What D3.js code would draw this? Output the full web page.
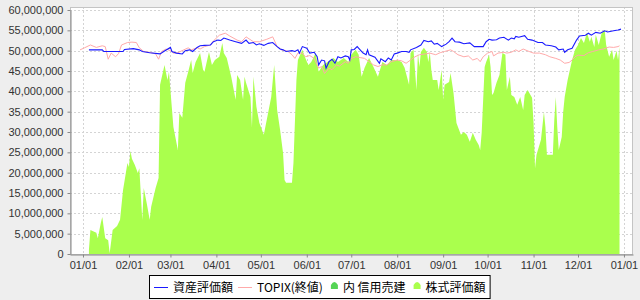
<!DOCTYPE html>
<html>
<head>
<meta charset="utf-8">
<script src="https://cdn.jsdelivr.net/npm/d3@7"></script>
<style>
  body { margin: 0; background: #eeeeee; }
  svg { display: block; }
  .tick text { font-family: "Liberation Sans", Arial, sans-serif; font-size: 11px; fill: #333; }
</style>
</head>
<body>
<div id="chart"></div>
<script>
var svgWidth = 640;
var svgHeight = 300;

// plot area
var plotLeft = 70, plotRight = 633, plotTop = 7, plotBottom = 254;

// day offsets from 01/01, values in millions of yen
var stockDays = [4, 5, 9, 10, 12, 13, 15, 17, 18, 20, 23, 25, 27, 30, 31, 32, 33, 35, 37, 38,
  40, 41, 43, 45, 46, 49, 51, 52, 55, 57, 58, 61, 64, 65, 67, 69, 71, 73, 74, 76,
  79, 81, 82, 85, 87, 89, 92, 94, 95, 97, 100, 103, 104, 106, 108, 109, 110, 113, 114, 115,
  117, 119, 122, 124, 127, 129, 131, 133, 135, 136, 137, 141, 142, 144, 145, 148, 150, 152, 154, 157,
  159, 162, 165, 169, 172, 176, 179, 181, 184, 186, 188, 190, 193, 196, 199, 202, 205, 208, 212, 215,
  217, 220, 221, 223, 225, 226, 227, 228, 230, 232, 233, 234, 235, 236, 239, 240, 242, 243, 244, 247,
  248, 250, 252, 253, 255, 257, 259, 261, 263, 265, 267, 268, 269, 271, 272, 274, 275, 276, 277, 279,
  281, 283, 285, 286, 288, 289, 291, 293, 295, 297, 298, 300, 303, 304, 305, 306, 309, 311, 312, 313,
  317, 318, 319, 320, 321, 323, 324, 325, 327, 330, 332, 334, 336, 338, 340, 342, 343, 345, 346, 348,
  350, 352, 353, 355, 357, 358, 360, 361, 362];
var stockValues = [1.0, 5.9, 5.2, 3.9, 7.6, 9.1, 3.9, 3.4, 0.2, 5.9, 6.9, 8.4, 15.7, 22.4, 21.4, 25.3, 23.4, 21.9, 19.9, 21.1,
  8.4, 16.2, 12.5, 8.4, 11.6, 16.2, 18.7, 41.6, 46.5, 42.8, 44.8, 31.2, 25.6, 34.7, 33.5, 42.1, 44.8, 47.7, 44.5, 47.2,
  49.4, 45.3, 44.8, 49.7, 46.5, 47.7, 48.5, 51.9, 49.4, 48.2, 43.6, 37.9, 44.0, 42.8, 37.9, 43.6, 42.1, 38.6, 31.2, 43.6,
  36.2, 32.2, 29.3, 33.0, 38.6, 46.5, 35.4, 30.5, 24.8, 18.2, 17.5, 17.5, 22.4, 42.8, 47.7, 50.2, 48.2, 46.5, 47.2, 49.4,
  44.8, 46.5, 47.2, 48.2, 47.2, 48.2, 47.2, 49.0, 50.2, 49.0, 43.6, 45.8, 48.2, 46.0, 43.6, 47.2, 46.5, 47.7, 47.7, 47.2,
  45.8, 41.6, 49.4, 50.2, 40.3, 49.4, 46.0, 49.7, 50.7, 49.7, 47.2, 49.7, 45.3, 42.8, 42.8, 40.3, 45.3, 37.9, 41.6, 42.3,
  44.5, 39.6, 32.2, 31.2, 29.3, 30.0, 29.3, 27.6, 29.8, 28.1, 26.8, 25.6, 29.8, 46.0, 47.2, 49.0, 46.0, 39.1, 39.6, 42.1,
  44.0, 49.4, 49.0, 40.3, 43.6, 39.1, 38.6, 36.7, 38.6, 35.4, 39.1, 40.3, 38.4, 32.2, 21.1, 24.4, 28.1, 34.9, 31.2, 24.4,
  24.4, 33.0, 38.6, 31.2, 25.6, 28.8, 34.9, 38.6, 42.8, 47.7, 50.2, 51.4, 53.1, 51.9, 54.4, 52.2, 53.4, 50.9, 53.9, 51.4,
  54.4, 55.1, 51.4, 48.5, 50.2, 47.7, 50.0, 47.7, 50.9];

var assetDays = [4, 13, 14, 27, 28, 34, 38, 40, 45, 52, 55, 59, 60, 63, 67, 69, 72, 74, 77, 79,
  82, 86, 88, 91, 93, 95, 96, 99, 103, 107, 110, 112, 115, 117, 119, 122, 125, 128, 131, 133,
  135, 137, 141, 143, 145, 146, 148, 151, 153, 156, 158, 159, 161, 163, 164, 166, 168, 170, 172, 174,
  177, 179, 180, 181, 183, 185, 187, 189, 191, 192, 193, 197, 200, 201, 204, 206, 208, 210, 212, 215,
  218, 220, 221, 225, 228, 230, 233, 235, 237, 239, 242, 245, 247, 249, 251, 254, 257, 261, 264, 267,
  270, 272, 274, 276, 279, 281, 284, 287, 289, 291, 292, 294, 298, 300, 303, 307, 310, 312, 316, 319,
  321, 324, 325, 327, 330, 333, 335, 339, 341, 343, 346, 349, 352, 354, 358, 361, 363];
var assetValues = [50.2, 50.2, 49.8, 49.8, 50.3, 50.5, 50.2, 49.8, 49.5, 49.2, 49.9, 50.8, 49.8, 49.4, 49.2, 50.0, 50.2, 49.8, 50.8, 51.2,
  51.3, 51.4, 52.2, 52.6, 52.5, 53.1, 53.0, 52.6, 52.2, 51.8, 52.6, 51.8, 52.0, 51.4, 51.7, 51.3, 51.8, 52.0, 51.0, 50.4,
  50.2, 49.8, 50.0, 49.8, 50.2, 49.4, 51.0, 50.6, 49.4, 49.6, 48.5, 46.5, 47.7, 47.5, 45.7, 47.3, 47.9, 46.9, 48.5, 48.2,
  48.7, 48.5, 47.7, 50.2, 50.3, 51.0, 50.2, 49.4, 49.0, 50.2, 49.0, 48.4, 46.9, 48.0, 47.3, 48.2, 47.7, 49.2, 49.4, 49.8,
  49.8, 49.6, 50.2, 50.8, 51.4, 52.5, 52.2, 52.4, 51.6, 51.8, 51.0, 51.6, 52.2, 53.1, 52.2, 52.1, 51.7, 51.9, 51.0, 51.0,
  51.0, 52.2, 52.8, 52.6, 52.7, 53.1, 53.3, 52.6, 53.1, 52.9, 53.5, 53.3, 53.7, 52.8, 52.6, 52.0, 52.0, 51.4, 51.2, 50.9,
  50.2, 50.4, 49.6, 50.2, 50.6, 52.6, 53.6, 53.8, 54.3, 53.8, 54.5, 54.3, 54.9, 54.6, 54.9, 55.1, 55.3];

var topixDays = [-2, 1, 5, 9, 13, 15, 17, 19, 22, 24, 26, 30, 33, 36, 38, 41, 45, 49, 51, 53,
  56, 59, 61, 64, 68, 71, 73, 77, 79, 82, 86, 88, 92, 96, 99, 104, 107, 110, 115, 119,
  124, 128, 131, 134, 138, 141, 143, 145, 148, 150, 153, 156, 159, 161, 163, 166, 168, 171, 173, 177,
  179, 181, 184, 187, 190, 193, 196, 199, 202, 205, 208, 212, 215, 218, 221, 224, 227, 231, 234, 238,
  241, 244, 248, 250, 253, 257, 260, 263, 266, 268, 270, 273, 276, 277, 280, 284, 286, 289, 292, 294,
  297, 301, 304, 308, 312, 315, 319, 322, 325, 328, 330, 332, 334, 338, 341, 344, 348, 351, 355, 358,
  361, 362];
var topixValues = [50.2, 50.7, 51.4, 50.8, 51.2, 51.0, 47.9, 49.4, 48.5, 49.3, 51.4, 52.0, 52.1, 52.0, 50.7, 49.8, 49.6, 49.2, 47.9, 49.8,
  50.4, 50.0, 49.4, 49.5, 50.2, 50.7, 50.2, 50.7, 50.4, 51.0, 51.4, 52.4, 53.8, 54.3, 53.6, 52.6, 52.2, 53.4, 52.2, 52.2,
  52.8, 53.4, 51.0, 50.2, 49.9, 49.0, 48.1, 49.4, 49.4, 48.5, 48.8, 48.1, 45.7, 46.1, 44.4, 45.7, 45.3, 46.5, 46.2, 47.3,
  46.9, 48.1, 48.5, 48.3, 48.1, 47.3, 46.5, 46.1, 46.5, 46.5, 47.3, 47.7, 47.5, 46.9, 47.7, 48.5, 49.0, 49.2, 49.4, 49.0,
  49.5, 49.8, 50.2, 49.8, 49.0, 48.5, 48.7, 47.7, 48.1, 47.3, 48.5, 49.4, 49.8, 48.7, 49.4, 49.6, 49.4, 49.6, 50.2, 49.8,
  50.4, 49.8, 49.4, 49.4, 49.0, 48.5, 48.1, 47.7, 46.9, 47.1, 47.7, 48.5, 48.9, 48.8, 49.5, 49.8, 50.2, 50.4, 50.9, 50.8,
  51.0, 51.2];

var yTicks = [0, 5, 10, 15, 20, 25, 30, 35, 40, 45, 50, 55, 60];

var legendNames = ["資産評価額", "TOPIX(終値)", "内 信用売建", "株式評価額"];

var dayMs = 864e5;
var base = Date.UTC(2015, 0, 1);
function toDate(d) { return new Date(base + d * dayMs); }

var svg = d3.select("#chart")
  .append("svg")
  .attr("width", svgWidth)
  .attr("height", svgHeight);

svg.append("rect")
  .attr("width", svgWidth).attr("height", svgHeight)
  .attr("fill", "#eeeeee");

// plot background
svg.append("rect")
  .attr("x", plotLeft).attr("y", plotTop)
  .attr("width", plotRight - plotLeft).attr("height", plotBottom - plotTop)
  .attr("fill", "#ffffff");

var x = d3.scaleUtc()
  .domain([toDate(-8.77), toDate(371.1)])
  .range([plotLeft, plotRight]);

var y = d3.scaleLinear()
  .domain([0, 60])
  .range([plotBottom, plotTop + 3]);

var monthTicks = d3.utcMonth.range(toDate(0), toDate(366));

// grid
var grid = svg.append("g").attr("stroke", "#d4d4d4").attr("stroke-dasharray", "2,2");
grid.selectAll("line.h")
  .data(yTicks.filter(d => d > 0))
  .enter().append("line")
  .attr("x1", plotLeft).attr("x2", plotRight)
  .attr("y1", d => Math.round(y(d)) + 0.5).attr("y2", d => Math.round(y(d)) + 0.5);
grid.selectAll("line.v")
  .data(monthTicks)
  .enter().append("line")
  .attr("y1", plotTop).attr("y2", plotBottom)
  .attr("x1", d => Math.round(x(d)) + 0.5).attr("x2", d => Math.round(x(d)) + 0.5);

var clip = svg.append("clipPath").attr("id", "plotclip")
  .append("rect")
  .attr("x", plotLeft).attr("y", plotTop)
  .attr("width", plotRight - plotLeft).attr("height", plotBottom - plotTop);

var plot = svg.append("g").attr("clip-path", "url(#plotclip)");

// stock valuation area
var stockData = stockDays.map((d, i) => ({ date: toDate(d), value: stockValues[i] }));
plot.append("path")
  .datum(stockData)
  .attr("fill", "#aaff4d")
  .attr("d", d3.area()
    .x(d => x(d.date))
    .y0(y(0))
    .y1(d => y(d.value)));

// TOPIX line
var topixData = topixDays.map((d, i) => ({ date: toDate(d), value: topixValues[i] }));
plot.append("path")
  .datum(topixData)
  .attr("fill", "none")
  .attr("stroke", "#ffaaaa")
  .attr("stroke-width", 1)
  .attr("d", d3.line().x(d => x(d.date)).y(d => y(d.value)));

// asset line
var assetData = assetDays.map((d, i) => ({ date: toDate(d), value: assetValues[i] }));
plot.append("path")
  .datum(assetData)
  .attr("fill", "none")
  .attr("stroke", "#1a1aff")
  .attr("stroke-width", 1.1)
  .attr("d", d3.line().x(d => x(d.date)).y(d => y(d.value)));

// plot outline
svg.append("rect")
  .attr("x", plotLeft + 0.5).attr("y", plotTop + 0.5)
  .attr("width", plotRight - plotLeft - 1).attr("height", plotBottom - plotTop)
  .attr("fill", "none")
  .attr("stroke", "#c4c4c4");

// axes
var leftAxis = d3.axisLeft(y)
  .tickValues(yTicks)
  .tickSize(3)
  .tickSizeOuter(0)
  .tickPadding(4)
  .tickFormat(d => d3.format(",")(d * 1e6));

var yAxis = svg.append("g")
  .attr("transform", `translate(${plotLeft + 0.5},0)`)
  .call(leftAxis);

var bottomAxis = d3.axisBottom(x)
  .tickValues(monthTicks)
  .tickSize(3)
  .tickSizeOuter(0)
  .tickPadding(4)
  .tickFormat(d3.utcFormat("%m/%d"));

var xAxis = svg.append("g")
  .attr("transform", `translate(0,${plotBottom + 0.5})`)
  .call(bottomAxis);

svg.selectAll(".domain").attr("stroke", "#888888");
svg.selectAll(".tick line").attr("stroke", "#888888");
yAxis.selectAll(".tick line").attr("x1", 0).attr("x2", -3);
xAxis.selectAll(".tick text").attr("dy", "0.71em");

// legend
var legend = svg.append("g");
var legendFont = '"Noto Sans CJK JP", "Noto Sans", sans-serif';
var itemX = 0;
var sampleColors = ["#1a1aff", "#ffaaaa", "#55d455", "#aaff4d"];
legendNames.forEach(function(name, i) {
  var g = legend.append("g").attr("transform", `translate(${itemX},0)`);
  if (i < 2) {
    g.append("line")
      .attr("x1", 0).attr("x2", 14)
      .attr("y1", 0.5).attr("y2", 0.5)
      .attr("stroke", sampleColors[i]);
  } else {
    g.append("path")
      .attr("d", "M0,4 L0,0 Q3.5,-6 7,0 L7,4 Z")
      .attr("transform", "translate(3,-2)")
      .attr("fill", sampleColors[i]);
  }
  var t = g.append("text")
    .attr("x", i < 2 ? 19 : 15)
    .attr("y", 5)
    .attr("font-family", legendFont)
    .attr("font-size", 12)
    .attr("fill", "#000")
    .text(name);
  itemX += (i < 2 ? 19 : 15) + t.node().getComputedTextLength() + 5;
});
var legendW = itemX + 4;
var legendX = Math.round((svgWidth - legendW) / 2);
legend.insert("rect", ":first-child")
  .attr("x", -4.5).attr("y", -11.5)
  .attr("width", legendW).attr("height", 23)
  .attr("fill", "#ffffff")
  .attr("stroke", "#000000");
legend.attr("transform", `translate(${legendX + 4},287)`);
</script>
</body>
</html>
